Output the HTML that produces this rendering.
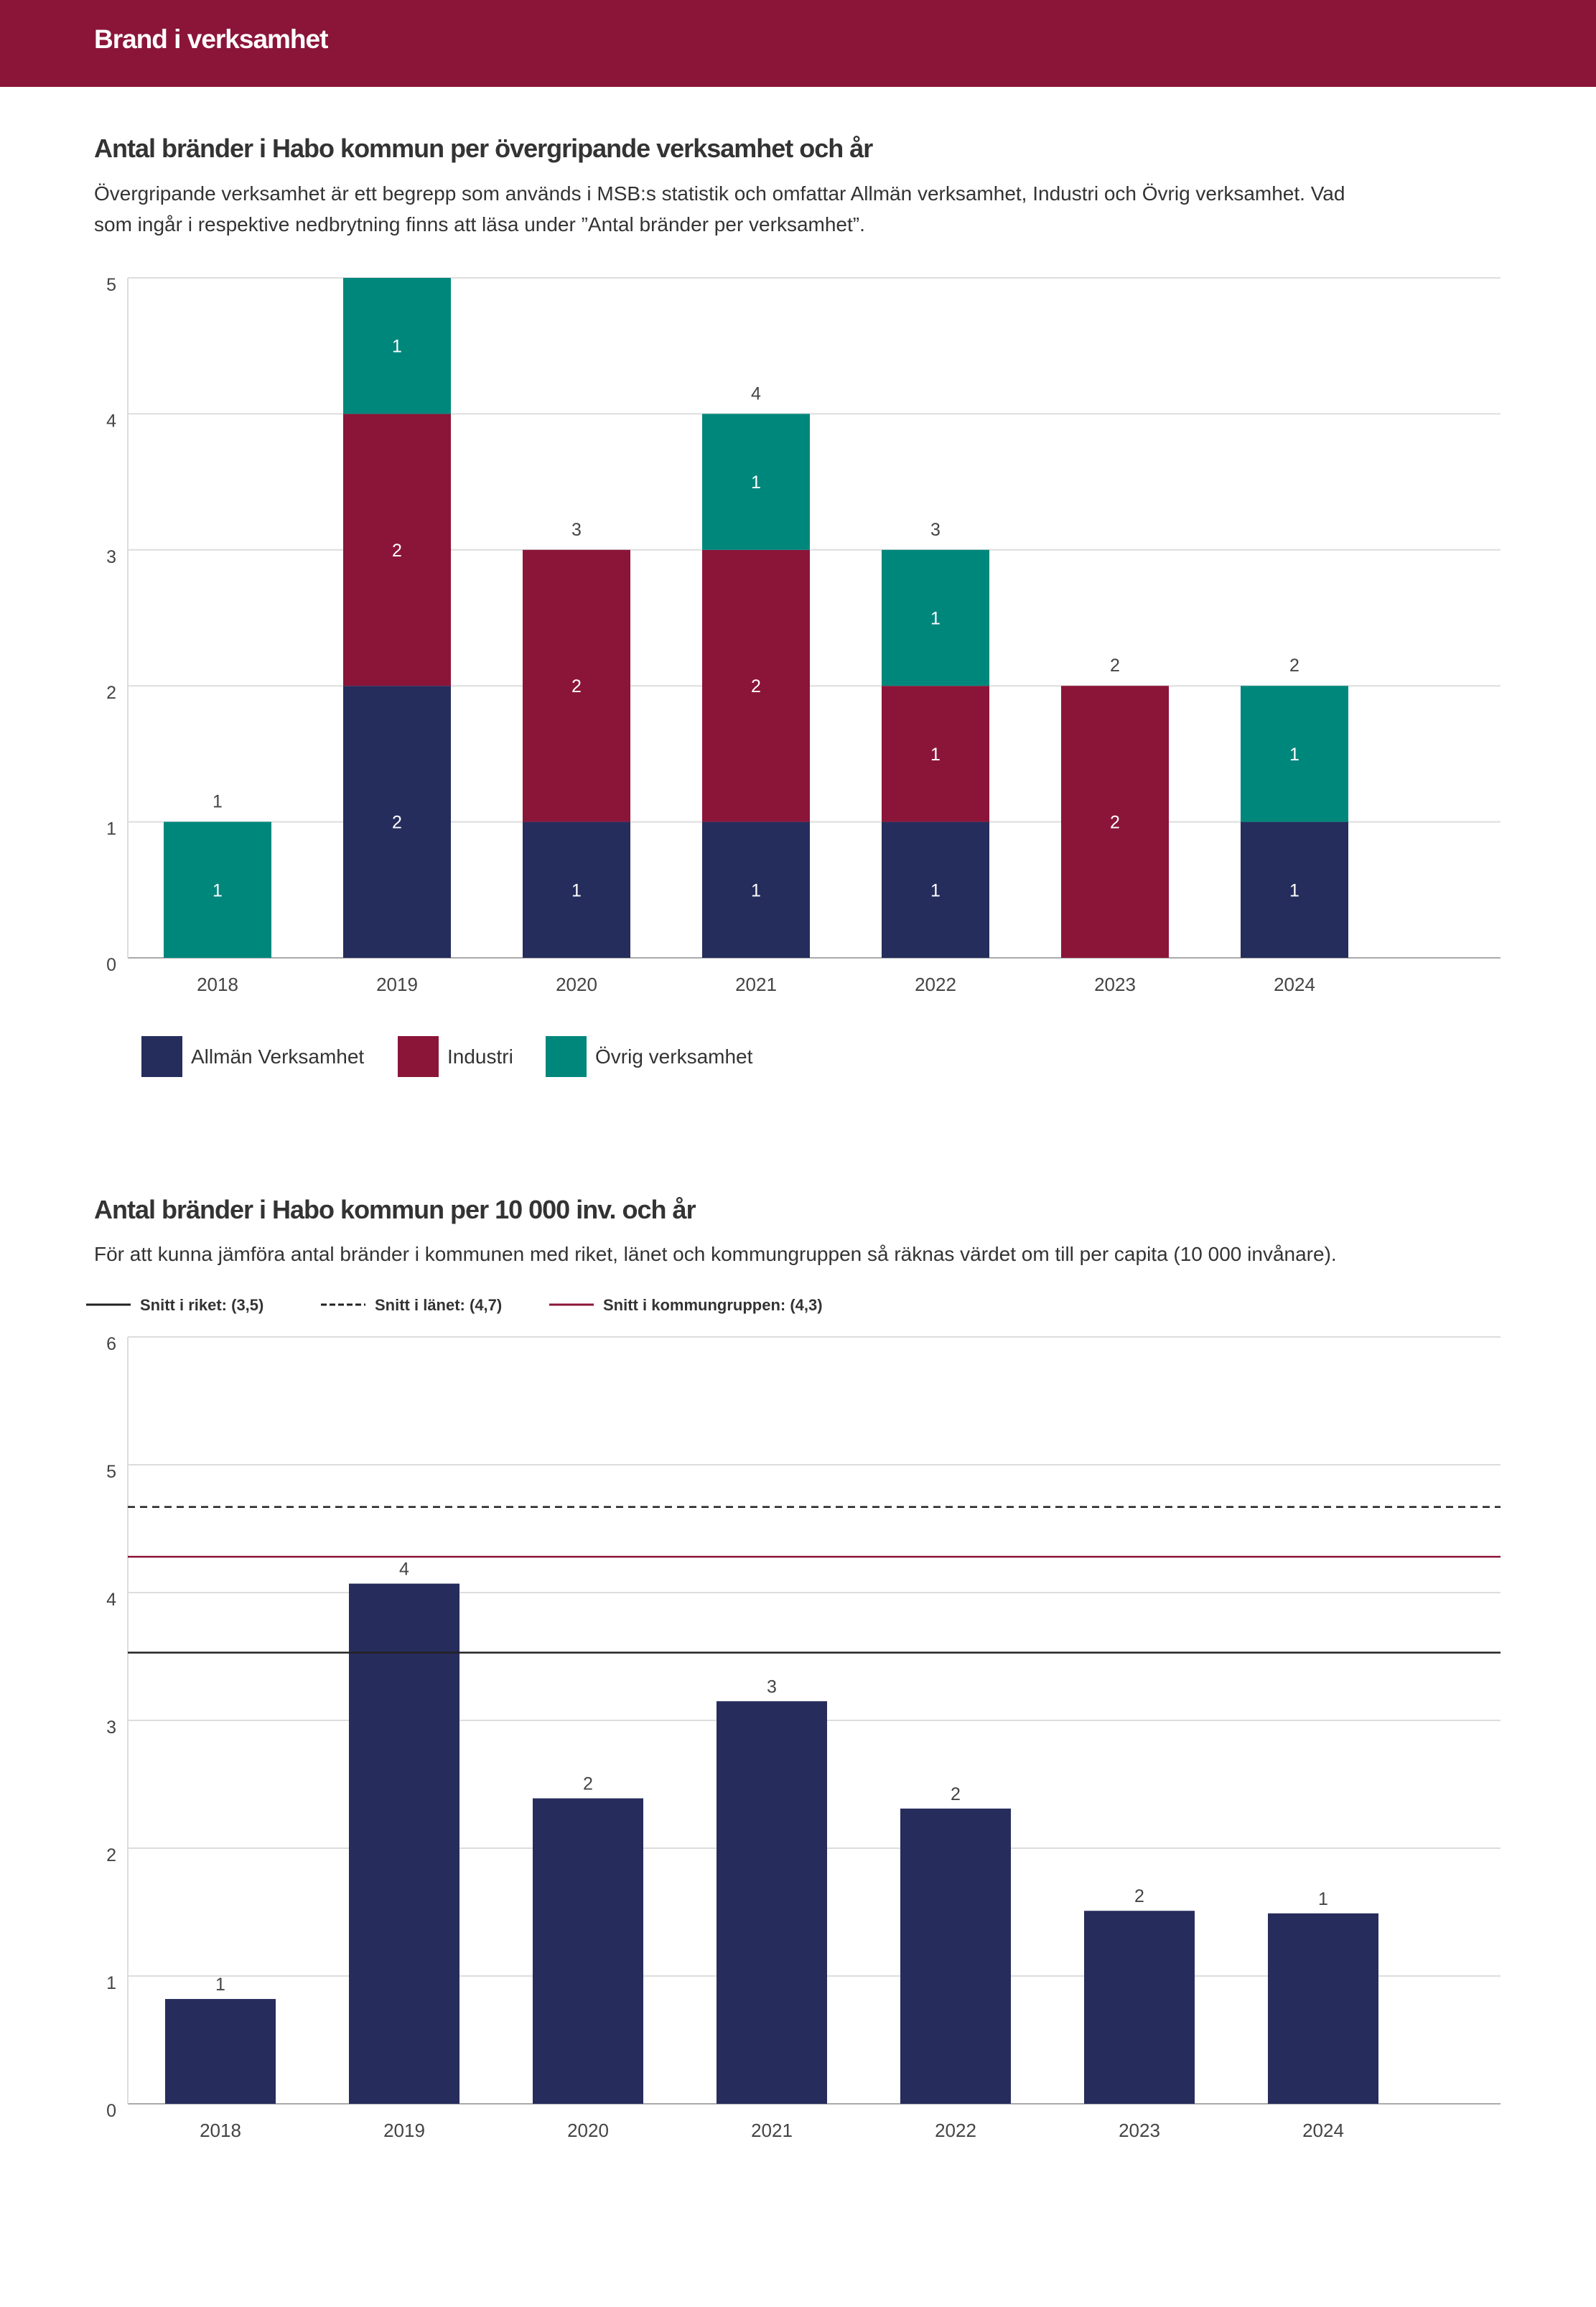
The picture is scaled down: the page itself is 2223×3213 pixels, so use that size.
<!DOCTYPE html>
<html><head><meta charset="utf-8">
<style>
body{margin:0;width:2223px;height:3213px;background:#fff;font-family:"Liberation Sans",sans-serif;color:#333;overflow:hidden;position:relative}
.hdr{position:absolute;left:0;top:0;width:2223px;height:121px;background:#8b1538}
.hdr span{position:absolute;left:131px;top:34px;color:#fff;font-size:37px;font-weight:bold;letter-spacing:-1px}
.t{position:absolute;left:131px;font-size:36px;font-weight:bold;color:#333;letter-spacing:-1px}
.s{position:absolute;left:131px;font-size:28px;color:#333;line-height:43px;width:1980px}
svg{position:absolute;left:0;top:0}
</style></head><body>
<div class="hdr"><span>Brand i verksamhet</span></div>
<div class="t" style="top:186px">Antal bränder i Habo kommun per övergripande verksamhet och år</div>
<div class="s" style="top:248px;width:1760px">Övergripande verksamhet är ett begrepp som används i MSB:s statistik och omfattar Allmän verksamhet, Industri och Övrig verksamhet. Vad som ingår i respektive nedbrytning finns att läsa under ”Antal bränder per verksamhet”.</div>
<div class="t" style="top:1664px">Antal bränder i Habo kommun per 10 000 inv. och år</div>
<div class="s" style="top:1725px">För att kunna jämföra antal bränder i kommunen med riket, länet och kommungruppen så räknas värdet om till per capita (10 000 invånare).</div>
<svg id="c" width="2223" height="3213" xmlns="http://www.w3.org/2000/svg" font-family="Liberation Sans, sans-serif"></svg>
<script>
const years=["2018","2019","2020","2021","2022","2023","2024"];
const allman=[0,2,1,1,1,0,1];
const industri=[0,2,2,2,1,2,0];
const ovrig=[1,1,0,1,1,0,1];
const ticks1=[0,1,2,3,4,5];
const perCapita=[0.82,4.07,2.39,3.15,2.31,1.51,1.49];
const perCapitaLabels=["1","4","2","3","2","2","1"];
const ticks2=[0,1,2,3,4,5,6];
const refNames=["Snitt i riket: (3,5)","Snitt i länet: (4,7)","Snitt i kommungruppen: (4,3)"];
const refValues=[3.53,4.67,4.28];
const refDash=["","10,7",""];
const refColor=["#222","#222","#8b1538"];
const NS="http://www.w3.org/2000/svg";
const svg=document.getElementById('c');
function mk(tag,attrs,name,text){const e=document.createElementNS(NS,tag);for(const k in attrs)e.setAttribute(k,attrs[k]);


if(text!==undefined)e.textContent=text;svg.appendChild(e);return e;}
const L=178,R=2090;
// chart 1
const y1=v=>1334-v*189.4, x1=i=>303+i*250;
ticks1.forEach(t=>{mk('line',{x1:L,x2:R,y1:y1(t),y2:y1(t),stroke:t==0?'#aaa':'#ddd','stroke-width':2},'gridline');
mk('text',{x:162,y:y1(t)+18,'font-size':25,'text-anchor':'end',fill:'#444'},'y-tick-label',t);});
mk('line',{x1:L,x2:L,y1:y1(5),y2:y1(0),stroke:'#ddd','stroke-width':2},'y-axis');
const series=[[allman,'#252d5c','allman'],[industri,'#8b1538','industri'],[ovrig,'#00877c','ovrig']];
years.forEach((yr,i)=>{let base=0;
series.forEach(([arr,col,n])=>{const v=arr[i];if(v>0){
mk('rect',{x:x1(i)-75,y:y1(base+v),width:150,height:y1(base)-y1(base+v),fill:col},'bar-'+n+'-'+yr);
mk('text',{x:x1(i),y:(y1(base)+y1(base+v))/2+9,'font-size':25,'text-anchor':'middle',fill:'#fff'},'segment-label',v);}
base+=v;});
if(base<5)mk('text',{x:x1(i),y:y1(base)-20,'font-size':25,'text-anchor':'middle',fill:'#444'},'total-label',base);
mk('text',{x:x1(i),y:1380,'font-size':26,'text-anchor':'middle',fill:'#444'},'x-tick-label',yr);});
[['Allmän Verksamhet','#252d5c',197],['Industri','#8b1538',554],['Övrig verksamhet','#00877c',760]].forEach(([n,c,x])=>{
mk('rect',{x:x,y:1443,width:57,height:57,fill:c},'legend-swatch');
mk('text',{x:x+69,y:1481,'font-size':28,fill:'#333'},'legend-entry',n);});
// chart 2
const y2=v=>2930-v*178, x2=i=>307+i*256;
ticks2.forEach(t=>{mk('line',{x1:L,x2:R,y1:y2(t),y2:y2(t),stroke:t==0?'#aaa':'#ddd','stroke-width':2},'gridline');
mk('text',{x:162,y:y2(t)+18,'font-size':25,'text-anchor':'end',fill:'#444'},'y-tick-label',t);});
mk('line',{x1:L,x2:L,y1:y2(6),y2:y2(0),stroke:'#ddd','stroke-width':2},'y-axis');
years.forEach((yr,i)=>{const v=perCapita[i];
mk('rect',{x:x2(i)-77,y:y2(v),width:154,height:y2(0)-y2(v),fill:'#262c5c'},'bar-'+yr);
mk('text',{x:x2(i),y:y2(v)-12,'font-size':25,'text-anchor':'middle',fill:'#444'},'value-label',perCapitaLabels[i]);
mk('text',{x:x2(i),y:2976,'font-size':26,'text-anchor':'middle',fill:'#444'},'x-tick-label',yr);});
const lx=[120,447,765];
refValues.forEach((v,k)=>{const a={x1:L,x2:R,y1:y2(v),y2:y2(v),stroke:refColor[k],'stroke-width':2.5};if(refDash[k])a['stroke-dasharray']=refDash[k];
mk('line',a,'reference-line');
const b={x1:lx[k],x2:lx[k]+62,y1:1817,y2:1817,stroke:refColor[k],'stroke-width':3};if(refDash[k])b['stroke-dasharray']='8,4';
mk('line',b,'legend-line');
mk('text',{x:lx[k]+75,y:1825,'font-size':22,'font-weight':'bold',fill:'#333'},'legend-entry',refNames[k]);});
</script>
</body></html>
